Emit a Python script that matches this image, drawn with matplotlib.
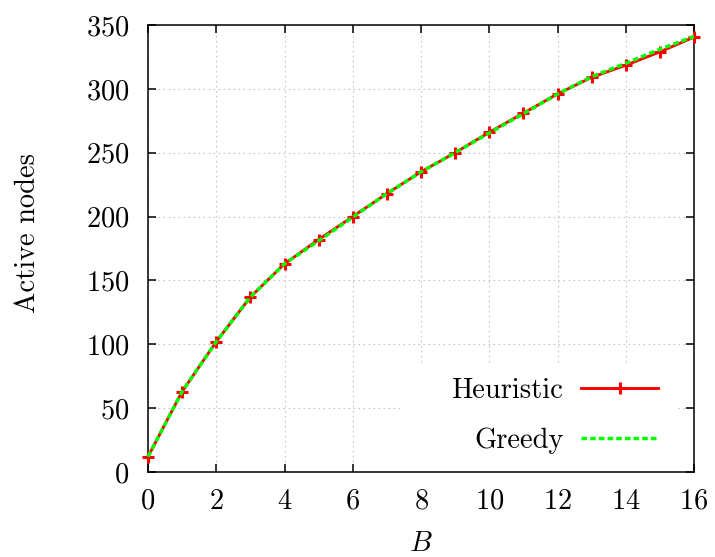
import matplotlib.pyplot as plt
from matplotlib.patches import Rectangle
from matplotlib.lines import Line2D

plt.rcParams['font.family'] = ['cmr10', 'DejaVu Serif']
plt.rcParams['mathtext.fontset'] = 'cm'
plt.rcParams['axes.formatter.use_mathtext'] = True
plt.rcParams['font.size'] = 20.5

budget = list(range(17))
heuristic = [12, 63, 102, 137, 163, 182, 200, 218, 235, 250, 266, 281, 296, 309, 318.5, 329, 340.5]
greedy = [12, 63, 102, 137, 163, 181, 199.5, 218, 235, 250, 265.5, 280.5, 296, 309.5, 320, 331, 341]
xticks = list(range(0, 17, 2))
yticks = list(range(0, 351, 50))

fig = plt.figure(figsize=(7.15, 5.57), dpi=100)
ax = fig.add_axes([148 / 715, 85 / 557, 546 / 715, 447 / 557])

ax.set_axisbelow(True)
ax.grid(True, color='#c4c4c4', lw=0.8, ls=(0, (1.5, 3)))

# opaque key area like gnuplot
ax.add_patch(Rectangle((0.465, 0), 0.504, 0.239, transform=ax.transAxes,
                       facecolor='white', edgecolor='none', zorder=1))

ax.plot(budget, heuristic, color='#ff0000', lw=2.1, marker='+', ms=8, mew=2.2,
        zorder=3, clip_on=False)
ax.plot(budget, greedy, color='#00ff00', lw=2.5, ls=(0, (1.6, 0.9)),
        zorder=4, clip_on=False)

ax.set_xlim(0, 16)
ax.set_ylim(0, 350)
ax.set_xticks(xticks)
ax.set_yticks(yticks)
ax.tick_params(direction='in', length=5.8, width=1.1, top=True, right=True, pad=12)
ax.tick_params(axis='y', pad=13.5)
for s in ax.spines.values():
    s.set_linewidth(1.1)

ax.set_xlabel('$B$')
ax.set_ylabel('Active nodes')
ax.xaxis.set_label_coords(0.5, -0.132)
ax.yaxis.set_label_coords(-0.196, 0.535)

h1 = Line2D([], [], color='#ff0000', lw=2.1, marker='+', ms=8, mew=2.2)
h2 = Line2D([], [], color='#00ff00', lw=2.5, ls=(0, (1.6, 0.9)))
kw = dict(loc='center right', frameon=False, borderpad=0, borderaxespad=0,
          handlelength=2.7, handletextpad=0.62, markerfirst=False, numpoints=1)
leg1 = ax.legend([h1], ['Heuristic'], bbox_to_anchor=(0.934, 0.182), **kw)
ax.add_artist(leg1)
ax.legend([h2], ['Greedy'], bbox_to_anchor=(0.934, 0.069), **kw)

fig.savefig('out.png', dpi=100)
